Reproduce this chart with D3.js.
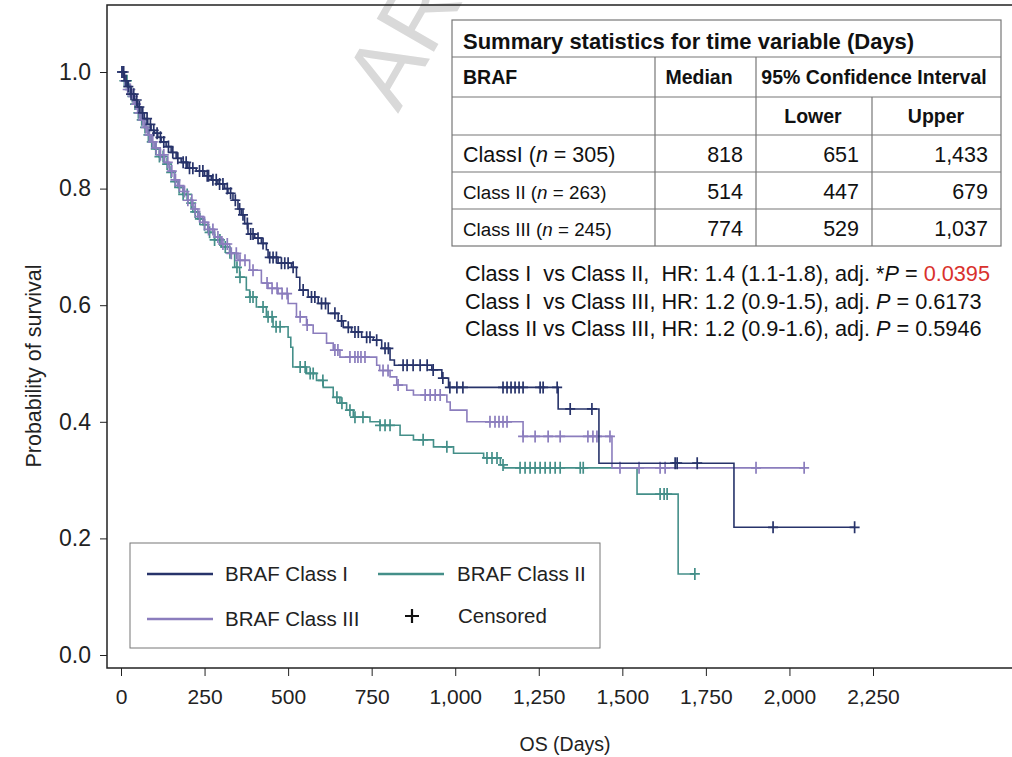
<!DOCTYPE html>
<html>
<head>
<style>
  body { margin: 0; background: #fff; }
  text { font-family: "Liberation Sans", Arial, sans-serif; }
</style>
</head>
<body>

<script src="https://d3js.org/d3.v7.min.js"></script>

<script>

const width = 1012;
const height = 757;

// Kaplan-Meier steps: time (days) where survival drops, and survival from that time on
const classITime = [0,10,20,30,40,50,60,70,80,90,100,110,120,135,150,165,180,200,225,250,270,290,310,320,335,350,360,370,380,400,420,435,440,470,510,525,535,560,590,620,650,665,690,720,755,780,805,818,930,960,980,1308,1430,1834];
const classISurv = [1,0.985,0.975,0.962,0.952,0.94,0.93,0.92,0.91,0.90,0.895,0.888,0.88,0.872,0.862,0.852,0.845,0.835,0.83,0.822,0.815,0.808,0.80,0.792,0.78,0.765,0.755,0.74,0.722,0.715,0.706,0.695,0.682,0.672,0.665,0.648,0.626,0.614,0.603,0.586,0.573,0.562,0.554,0.545,0.54,0.526,0.506,0.497,0.489,0.475,0.459,0.422,0.329,0.219];
const classICensored = [3,8,15,22,30,38,47,55,65,78,88,98,108,118,128,142,155,170,186,195,205,215,235,245,258,262,275,285,295,305,318,328,342,355,365,378,388,395,410,425,445,455,465,480,490,500,515,545,570,580,600,612,640,660,680,700,710,735,745,765,790,800,844,856,874,895,916,934,963,984,1005,1023,1143,1155,1167,1179,1191,1203,1254,1263,1305,1344,1409,1658,1664,1724,1951,2195];

const classIITime = [0,10,20,30,40,50,60,70,80,90,100,115,130,145,160,170,185,200,215,230,245,260,280,300,325,340,355,375,385,405,435,455,500,508,514,555,585,605,635,655,675,695,745,775,835,875,935,995,1085,1135,1145,1544,1667];
const classIISurv = [1,0.985,0.97,0.958,0.945,0.93,0.918,0.905,0.892,0.88,0.868,0.855,0.842,0.828,0.812,0.802,0.79,0.775,0.76,0.748,0.738,0.725,0.712,0.70,0.69,0.665,0.648,0.626,0.614,0.597,0.58,0.563,0.545,0.528,0.494,0.483,0.471,0.459,0.442,0.432,0.42,0.408,0.40,0.394,0.377,0.369,0.357,0.346,0.338,0.326,0.321,0.276,0.139];
const classIICensored = [3,10,18,26,34,42,52,62,72,82,92,104,115,126,138,150,162,174,186,198,210,222,236,250,265,280,296,312,326,347,356,386,395,425,440,452,464,476,536,551,566,575,604,646,661,685,700,724,775,790,805,904,975,1095,1110,1125,1143,1194,1209,1224,1239,1254,1269,1284,1299,1314,1374,1383,1613,1625,1634,1717];

const classIIITime = [0,10,20,30,40,50,60,70,80,90,100,115,130,145,160,170,185,200,215,230,245,260,280,300,325,350,385,420,440,470,500,525,555,575,615,635,655,765,774,805,825,855,875,975,985,1035,1203,1469];
const classIIISurv = [1,0.985,0.97,0.958,0.945,0.93,0.918,0.905,0.892,0.88,0.87,0.858,0.845,0.83,0.815,0.805,0.795,0.78,0.765,0.752,0.742,0.73,0.717,0.705,0.689,0.677,0.66,0.638,0.629,0.62,0.603,0.58,0.566,0.552,0.535,0.523,0.511,0.497,0.488,0.477,0.463,0.454,0.446,0.434,0.42,0.40,0.375,0.321];
const classIIICensored = [4,12,20,28,36,45,55,65,75,85,95,105,118,128,140,152,163,175,190,200,212,222,235,250,262,275,290,305,318,330,345,356,371,395,437,452,467,482,497,536,557,640,649,685,700,709,718,730,784,799,829,910,925,940,955,1104,1119,1131,1143,1155,1203,1239,1278,1314,1397,1412,1424,1463,1493,1550,1613,1628,1900,2044];

const xTicks = [0,250,500,750,1000,1250,1500,1750,2000,2250];
const yTicks = [0,0.2,0.4,0.6,0.8,1.0];

// summary table
const rowLabels = ['ClassI', 'Class II', 'Class III'];
const rowN = [305, 263, 245];
const medians = [818, 514, 774];
const lowers = [651, 447, 529];
const uppers = [1433, 679, 1037];

// hazard ratio comparisons
const hrText = [
  'Class I  vs Class II,  HR: 1.4 (1.1-1.8), adj. *',
  'Class I  vs Class III, HR: 1.2 (0.9-1.5), adj. ',
  'Class II vs Class III, HR: 1.2 (0.9-1.6), adj. '
];
const pValues = ['0.0395', '0.6173', '0.5946'];

const colors = { I: '#27336a', II: '#448f89', III: '#8b7dbd' };

const svg = d3.select('body')
              .append('svg')
              .attr('width', width)
              .attr('height', height);

const x = d3.scaleLinear().domain([0, 2250]).range([121, 873]);
const y = d3.scaleLinear().domain([0, 1]).range([655, 72]);

// watermark (mostly hidden behind the table)
svg.append('text')
  .attr('transform', 'translate(398,114) rotate(-60)')
  .attr('font-size', 96)
  .attr('fill', '#d9d9d9')
  .text('AR');

// frame
svg.append('rect')
  .attr('x', 107).attr('y', 5)
  .attr('width', 930).attr('height', 663)
  .attr('fill', 'none')
  .attr('stroke', '#222')
  .attr('stroke-width', 1.5);

// axes
const yAxis = svg.append('g')
  .attr('transform', 'translate(107,0)')
  .call(d3.axisLeft(y).tickValues(yTicks).tickFormat(d3.format('.1f')).tickSize(7).tickPadding(9));
yAxis.select('.domain').remove();
yAxis.selectAll('text').attr('font-size', 23).attr('fill', '#222');
yAxis.selectAll('line').attr('stroke', '#222');

const xAxis = svg.append('g')
  .attr('transform', 'translate(0,668)')
  .call(d3.axisBottom(x).tickValues(xTicks).tickFormat(d3.format(',')).tickSize(8).tickPadding(13));
xAxis.select('.domain').remove();
xAxis.selectAll('text').attr('font-size', 21).attr('fill', '#222');
xAxis.selectAll('line').attr('stroke', '#222');

svg.append('text')
  .attr('x', 565).attr('y', 751)
  .attr('text-anchor', 'middle')
  .attr('font-size', 19.5)
  .attr('fill', '#222')
  .text('OS (Days)');

svg.append('text')
  .attr('transform', 'translate(41,366) rotate(-90)')
  .attr('text-anchor', 'middle')
  .attr('font-size', 21.5)
  .attr('fill', '#222')
  .text('Probability of survival');

// curves
const line = d3.line()
  .x(d => x(d[0]))
  .y(d => y(d[1]))
  .curve(d3.curveStepAfter);

function drawCurve(times, surv, censored, color) {
  const pts = times.map((t, i) => [t, surv[i]]);
  const last = d3.max(censored);
  pts.push([last, surv[surv.length - 1]]);
  const survAt = t => surv[d3.bisectRight(times, t) - 1];

  const g = svg.append('g');
  g.append('path')
    .attr('d', line(pts))
    .attr('fill', 'none')
    .attr('stroke', color)
    .attr('stroke-width', 1.6);

  g.selectAll('path.cens')
    .data(censored)
    .enter()
    .append('path')
      .attr('class', 'cens')
      .attr('d', t => {
        const cx = x(t), cy = y(survAt(t));
        return `M${cx - 5},${cy}H${cx + 5}M${cx},${cy - 6}V${cy + 6}`;
      })
      .attr('stroke', color)
      .attr('stroke-width', 1.7);
}

drawCurve(classIITime, classIISurv, classIICensored, colors.II);
drawCurve(classIIITime, classIIISurv, classIIICensored, colors.III);
drawCurve(classITime, classISurv, classICensored, colors.I);

// legend
const legend = svg.append('g');
legend.append('rect')
  .attr('x', 130).attr('y', 543)
  .attr('width', 470).attr('height', 105)
  .attr('fill', '#fff')
  .attr('stroke', '#777')
  .attr('stroke-width', 1);

const legendItems = [
  { label: 'BRAF Class I', color: colors.I, lx: 147, ly: 574, tx: 225 },
  { label: 'BRAF Class II', color: colors.II, lx: 378, ly: 574, tx: 457 },
  { label: 'BRAF Class III', color: colors.III, lx: 147, ly: 619, tx: 225 }
];
legendItems.forEach(d => {
  legend.append('line')
    .attr('x1', d.lx).attr('x2', d.lx + 66)
    .attr('y1', d.ly).attr('y2', d.ly)
    .attr('stroke', d.color)
    .attr('stroke-width', 2.5);
  legend.append('text')
    .attr('x', d.tx).attr('y', d.ly + 7)
    .attr('font-size', 20.5)
    .attr('fill', '#222')
    .text(d.label);
});
legend.append('path')
  .attr('d', 'M405,616H419M412,609V623')
  .attr('stroke', '#111')
  .attr('stroke-width', 2.2);
legend.append('text')
  .attr('x', 458).attr('y', 623)
  .attr('font-size', 20.5)
  .attr('fill', '#222')
  .text('Censored');

// summary table
const table = svg.append('g');
const tL = 452, tR = 1001, tT = 20;
const rowY = [20, 57, 97, 135, 172, 209, 246];
const colX = [452, 655, 756, 872, 1001];

table.append('rect')
  .attr('x', tL).attr('y', tT)
  .attr('width', tR - tL).attr('height', rowY[6] - tT)
  .attr('fill', '#fff')
  .attr('stroke', '#777')
  .attr('stroke-width', 1.2);

rowY.slice(1, 6).forEach(ry => {
  table.append('line')
    .attr('x1', tL).attr('x2', tR)
    .attr('y1', ry).attr('y2', ry)
    .attr('stroke', '#777').attr('stroke-width', 1.2);
});
[[colX[1], rowY[1]], [colX[2], rowY[1]], [colX[3], rowY[2]]].forEach(([cx, top]) => {
  table.append('line')
    .attr('x1', cx).attr('x2', cx)
    .attr('y1', top).attr('y2', rowY[6])
    .attr('stroke', '#777').attr('stroke-width', 1.2);
});

table.append('text')
  .attr('x', 463).attr('y', 49)
  .attr('font-size', 22).attr('font-weight', 'bold').attr('fill', '#111')
  .text('Summary statistics for time variable (Days)');

const headers = [
  { t: 'BRAF', x: 463, y: 84, anchor: 'start' },
  { t: 'Median', x: 699, y: 84, anchor: 'middle' },
  { t: '95% Confidence Interval', x: 874, y: 84, anchor: 'middle' },
  { t: 'Lower', x: 813, y: 123, anchor: 'middle' },
  { t: 'Upper', x: 936, y: 123, anchor: 'middle' }
];
headers.forEach(h => {
  table.append('text')
    .attr('x', h.x).attr('y', h.y)
    .attr('text-anchor', h.anchor)
    .attr('font-size', 19.5).attr('font-weight', 'bold').attr('fill', '#111')
    .text(h.t);
});

const fmt = d3.format(',');
rowLabels.forEach((lab, i) => {
  const by = rowY[i + 3] + 27;
  const t = table.append('text')
    .attr('x', 463).attr('y', by)
    .attr('font-size', i === 0 ? 21.5 : 18.8).attr('fill', '#111');
  t.append('tspan').text(lab + ' (');
  t.append('tspan').attr('font-style', 'italic').text('n');
  t.append('tspan').text(' = ' + rowN[i] + ')');

  [medians[i], lowers[i], uppers[i]].forEach((v, j) => {
    table.append('text')
      .attr('x', colX[j + 2] - 13).attr('y', by)
      .attr('text-anchor', 'end')
      .attr('font-size', 21.5).attr('fill', '#111')
      .text(fmt(v));
  });
});

// comparison text
hrText.forEach((s, i) => {
  const t = svg.append('text')
    .attr('x', 465).attr('y', 281 + i * 27.5)
    .attr('font-size', 21.7)
    .attr('fill', '#111')
    .style('white-space', 'pre');
  t.append('tspan').text(s);
  t.append('tspan').attr('font-style', 'italic').text('P');
  t.append('tspan').text(' = ');
  t.append('tspan').attr('fill', i === 0 ? '#d9312d' : '#111').text(pValues[i]);
});

</script>
</body>
</html>
